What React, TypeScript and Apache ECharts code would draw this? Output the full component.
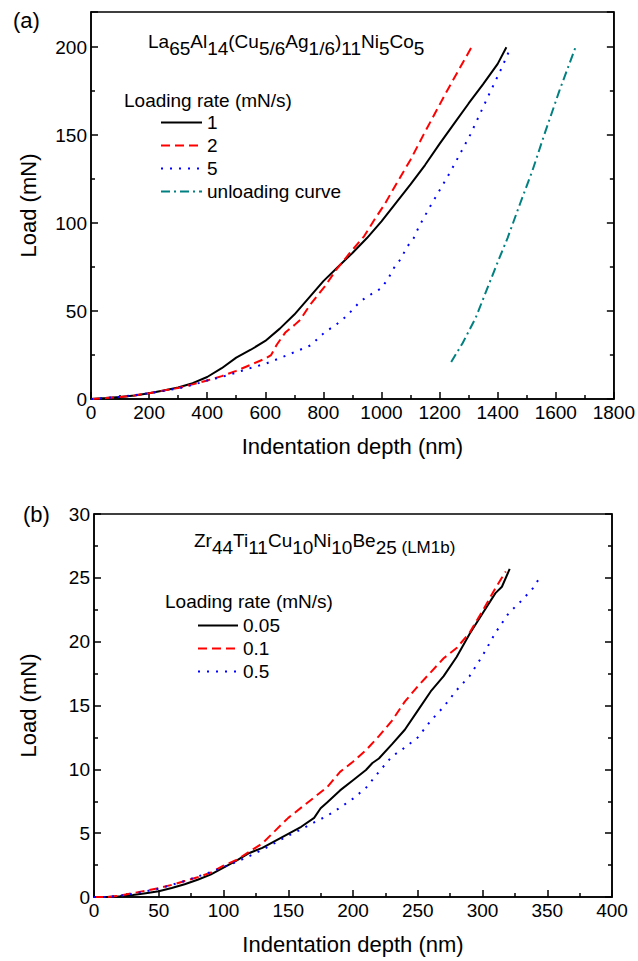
import React, { useEffect, useRef } from "react";
import * as echarts from "echarts";

const FONT = '"Liberation Sans", Arial, Helvetica, sans-serif';

// ---------- Panel (a): La65Al14(Cu5/6Ag1/6)11Ni5Co5 ----------
const rateLabelsA = ["1", "2", "5", "unloading curve"];
const xTicksA = { min: 0, max: 1800, interval: 200 };
const yTicksA = { min: 0, max: 220, interval: 50 };

const curveA1: number[][] = [
  [0, 0], [50, 0.5], [100, 1.2], [150, 2], [200, 3.3], [250, 4.8], [300, 6.5],
  [350, 9], [400, 12.5], [450, 17.5], [500, 23.5], [550, 28], [600, 33],
  [650, 40], [700, 48], [750, 57.5], [800, 67], [850, 75], [900, 83],
  [950, 91.5], [1000, 101], [1050, 111.5], [1100, 122], [1150, 133], [1200, 145],
  [1250, 156.5], [1300, 168], [1350, 179], [1400, 190.5], [1430, 200],
];
const curveA2: number[][] = [
  [0, 0], [50, 0.5], [100, 1.2], [150, 2], [200, 3.3], [250, 4.8], [300, 6.3],
  [350, 8.3], [400, 10.5], [450, 13], [500, 16], [550, 19.5], [600, 23],
  [620, 25], [640, 31], [670, 38], [700, 42], [720, 45], [756, 54], [805, 64],
  [842, 73], [891, 83], [940, 92.5], [976, 102], [1012, 111], [1050, 122],
  [1100, 136], [1144, 150], [1225, 175], [1310, 200],
];
const curveA5: number[][] = [
  [0, 0], [50, 0.5], [100, 1.3], [150, 2.2], [200, 3.3], [250, 4.6], [300, 6],
  [350, 8], [400, 10.5], [450, 12.5], [500, 15], [537, 17], [600, 20],
  [647, 23], [720, 28], [756, 30.5], [805, 38], [842, 42], [879, 47],
  [927, 55.5], [964, 59.5], [1000, 63], [1025, 69], [1043, 74.5], [1068, 80],
  [1086, 86], [1111, 91.5], [1129, 98], [1166, 109], [1240, 130], [1305, 150],
  [1367, 172], [1416, 189], [1445, 200],
];
const curveUnload: number[][] = [
  [1240, 21], [1280, 32], [1324, 46], [1367, 64], [1403, 79], [1434, 91.5],
  [1477, 111], [1520, 130], [1560, 150], [1612, 175], [1668, 200],
];

// ---------- Panel (b): Zr44Ti11Cu10Ni10Be25 (LM1b) ----------
const rateLabelsB = ["0.05", "0.1", "0.5"];
const xTicksB = { min: 0, max: 400, interval: 50 };
const yTicksB = { min: 0, max: 30, interval: 5 };

const curveB005: number[][] = [
  [0, 0], [10, 0], [20, 0.05], [30, 0.15], [40, 0.3], [50, 0.45], [60, 0.7],
  [70, 1.0], [80, 1.35], [90, 1.75], [100, 2.3], [110, 2.85], [120, 3.45],
  [130, 3.85], [140, 4.4], [150, 4.95], [160, 5.5], [170, 6.2], [175, 6.95],
  [180, 7.4], [190, 8.35], [200, 9.15], [210, 9.95], [215, 10.5], [220, 10.85],
  [230, 11.95], [240, 13.1], [250, 14.6], [260, 16.1], [270, 17.3], [280, 18.8],
  [290, 20.6], [300, 22.2], [310, 23.8], [315, 24.3], [321, 25.7],
];
const curveB01: number[][] = [
  [0, 0], [10, 0], [20, 0.1], [30, 0.3], [40, 0.5], [50, 0.7], [60, 0.95],
  [70, 1.25], [80, 1.55], [90, 1.9], [100, 2.45], [110, 2.9], [120, 3.55],
  [130, 4.2], [140, 5.2], [150, 6.2], [160, 7.0], [170, 7.8], [180, 8.6],
  [190, 9.8], [200, 10.6], [210, 11.5], [220, 12.6], [230, 13.8], [240, 15.3],
  [250, 16.5], [260, 17.6], [270, 18.7], [280, 19.5], [290, 20.7], [300, 22.4],
  [310, 24.2], [318, 25.5],
];
const curveB05: number[][] = [
  [0, 0], [10, 0], [20, 0.1], [30, 0.25], [40, 0.45], [50, 0.65], [60, 0.95],
  [70, 1.25], [80, 1.6], [90, 1.95], [100, 2.35], [110, 2.75], [120, 3.2],
  [130, 3.7], [140, 4.25], [150, 4.8], [160, 5.3], [170, 5.85], [180, 6.35],
  [190, 7.0], [200, 7.7], [210, 8.55], [220, 9.8], [230, 11.0], [240, 11.7],
  [250, 12.5], [260, 13.8], [270, 14.9], [280, 16.2], [290, 17.3], [300, 18.9],
  [310, 20.7], [320, 22.2], [330, 23.2], [340, 24.3], [345, 25.2],
];

const BLACK = "#000000";
const RED = "#ff0000";
const BLUE = "#0000ff";
const TEAL = "#008080";

const plain = (v: number) => String(v);

function xAxis(gridIndex: number, t: { min: number; max: number; interval: number }) {
  return {
    type: "value",
    gridIndex,
    position: "bottom",
    min: t.min,
    max: t.max,
    interval: t.interval,
    name: "Indentation depth (nm)",
    nameLocation: "middle",
    nameGap: 36,
    nameTextStyle: { fontSize: 22, color: BLACK, fontFamily: FONT },
    axisLine: { show: true, onZero: false, lineStyle: { color: BLACK, width: 1.5 } },
    axisTick: { show: true, inside: true, length: 7, lineStyle: { color: BLACK, width: 1.5 } },
    minorTick: { show: true, splitNumber: 2, length: 4, lineStyle: { color: BLACK, width: 1.5 } },
    axisLabel: { fontSize: 19, color: BLACK, margin: 4, fontFamily: FONT, formatter: plain },
    splitLine: { show: false },
  };
}

function yAxis(
  gridIndex: number,
  t: { min: number; max: number; interval: number },
  side: "left" | "right",
  hideMax: boolean,
  nameGap: number
) {
  return {
    type: "value",
    gridIndex,
    position: side,
    min: t.min,
    max: t.max,
    interval: t.interval,
    name: side === "left" ? "Load (mN)" : "",
    nameLocation: "middle",
    nameGap,
    nameTextStyle: { fontSize: 22, color: BLACK, fontFamily: FONT },
    axisLine: { show: true, onZero: false, lineStyle: { color: BLACK, width: 1.5 } },
    axisTick: { show: true, inside: true, length: 7, lineStyle: { color: BLACK, width: 1.5 } },
    minorTick: { show: true, splitNumber: 2, length: 4, lineStyle: { color: BLACK, width: 1.5 } },
    axisLabel: {
      show: side === "left",
      fontSize: 19,
      color: BLACK,
      margin: 4,
      fontFamily: FONT,
      showMaxLabel: !hideMax,
      formatter: plain,
    },
    splitLine: { show: false },
  };
}

function lineSeries(
  name: string,
  data: number[][],
  color: string,
  type: any,
  xIdx: number,
  yIdx: number
) {
  return {
    type: "line",
    name,
    data,
    xAxisIndex: xIdx,
    yAxisIndex: yIdx,
    symbol: "none",
    smooth: false,
    color,
    lineStyle: { color, width: 2, type, cap: "butt" },
    z: 3,
  };
}

const richFormula = {
  n: { fontSize: 19, fontFamily: FONT, fill: BLACK, lineHeight: 20, verticalAlign: "top" },
  s: { fontSize: 19, fontFamily: FONT, fill: BLACK, lineHeight: 33, verticalAlign: "middle" },
  m: { fontSize: 17, fontFamily: FONT, fill: BLACK, lineHeight: 30, verticalAlign: "middle" },
};

const legendBase = {
  orient: "vertical",
  padding: 0,
  itemHeight: 19,
  itemGap: 4,
  selectedMode: false,
  itemStyle: { color: "rgba(0,0,0,0)", borderWidth: 0, opacity: 0 },
  textStyle: { fontSize: 19, color: BLACK, fontFamily: FONT, lineHeight: 19 },
};

export default function App() {
  const ref = useRef<HTMLDivElement>(null);

  useEffect(() => {
    if (!ref.current) return;
    const chart = echarts.init(ref.current, null, { renderer: "svg" });
    const option: any = {
      animation: false,
      backgroundColor: "#ffffff",
      textStyle: { fontFamily: FONT },
      grid: [
        { left: 91, top: 12, width: 526, height: 387, show: true, borderColor: BLACK, borderWidth: 1.5 },
        { left: 94, top: 514, width: 518, height: 383, show: true, borderColor: BLACK, borderWidth: 1.5 },
      ],
      xAxis: [xAxis(0, xTicksA), xAxis(1, xTicksB)],
      yAxis: [
        yAxis(0, yTicksA, "left", true, 52),
        yAxis(0, yTicksA, "right", true, 0),
        yAxis(1, yTicksB, "left", false, 55),
        yAxis(1, yTicksB, "right", false, 0),
      ],
      legend: [
        { ...legendBase, data: rateLabelsA, left: 160, top: 113, itemWidth: 41 },
        { ...legendBase, data: rateLabelsB, left: 197, top: 616, itemWidth: 40 },
      ],
      graphic: [
        {
          type: "text", x: 13, y: 20,
          style: { text: "(a)", fontSize: 22, fontFamily: FONT, fill: BLACK, verticalAlign: "middle" },
        },
        {
          type: "text", x: 23, y: 514,
          style: { text: "(b)", fontSize: 22, fontFamily: FONT, fill: BLACK, verticalAlign: "middle" },
        },
        {
          type: "text", x: 124, y: 100,
          style: { text: "Loading rate (mN/s)", fontSize: 19, fontFamily: FONT, fill: BLACK, verticalAlign: "middle" },
        },
        {
          type: "text", x: 165, y: 601,
          style: { text: "Loading rate (mN/s)", fontSize: 19, fontFamily: FONT, fill: BLACK, verticalAlign: "middle" },
        },
        {
          type: "text", x: 148, y: 32,
          style: {
            text: "{n|La}{s|65}{n|Al}{s|14}{n|(Cu}{s|5/6}{n|Ag}{s|1/6}{n|)}{s|11}{n|Ni}{s|5}{n|Co}{s|5}",
            rich: richFormula, verticalAlign: "top", fill: BLACK,
          },
        },
        {
          type: "text", x: 194, y: 531,
          style: {
            text: "{n|Zr}{s|44}{n|Ti}{s|11}{n|Cu}{s|10}{n|Ni}{s|10}{n|Be}{s|25}{m| (LM1b)}",
            rich: richFormula, verticalAlign: "top", fill: BLACK,
          },
        },
      ],
      series: [
        lineSeries(rateLabelsA[0], curveA1, BLACK, "solid", 0, 0),
        lineSeries(rateLabelsA[1], curveA2, RED, [9, 5], 0, 0),
        lineSeries(rateLabelsA[2], curveA5, BLUE, [2, 7], 0, 0),
        lineSeries(rateLabelsA[3], curveUnload, TEAL, [9, 4, 2, 4], 0, 0),
        lineSeries(rateLabelsB[0], curveB005, BLACK, "solid", 1, 2),
        lineSeries(rateLabelsB[1], curveB01, RED, [9, 5], 1, 2),
        lineSeries(rateLabelsB[2], curveB05, BLUE, [2, 7], 1, 2),
      ],
    };
    chart.setOption(option);
    return () => chart.dispose();
  }, []);

  return <div ref={ref} style={{ width: 638, height: 961, position: "absolute", left: 0, top: 0 }} />;
}
